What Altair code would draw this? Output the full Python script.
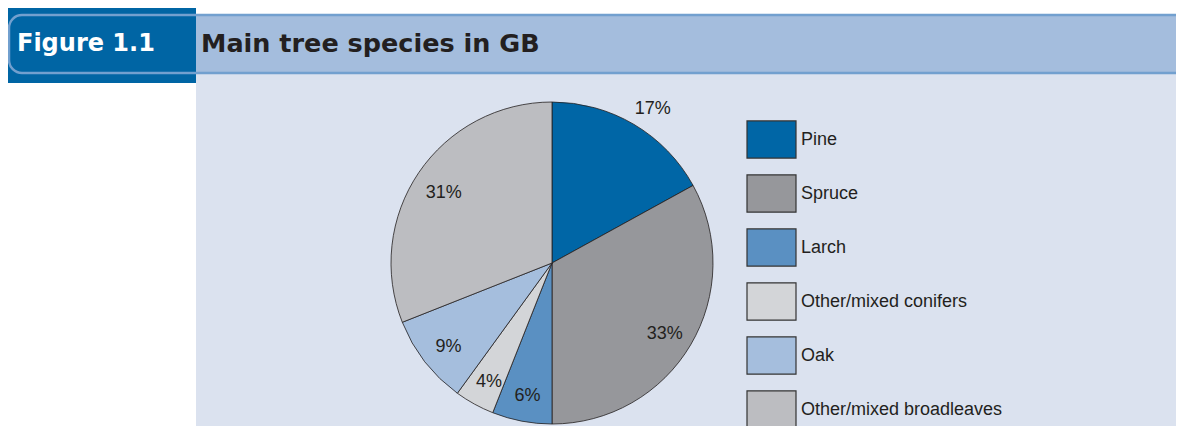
import altair as alt
import pandas as pd

# ---- data ----
species = ["Pine", "Spruce", "Larch", "Other/mixed conifers", "Oak", "Other/mixed broadleaves"]
shares = [17, 33, 6, 4, 9, 31]
share_labels = ["17%", "33%", "6%", "4%", "9%", "31%"]
colors = ["#0066a6", "#96979b", "#5a90c2", "#d3d5d8", "#a5bedd", "#bcbdc1"]

fig_label = "Figure 1.1"
title_text = "Main tree species in GB"

df = pd.DataFrame({
    "species": species,
    "share": shares,
    "label": share_labels,
    "idx": list(range(len(species))),
})
one = pd.DataFrame({"k": [0]})

FONT = "Liberation Sans"
HFONT = "DejaVu Sans"
W, H = 1168, 418
CX, CY, R = 544, 255, 161

# ---- decoration ----
panel = alt.Chart(one).mark_rect(color="#dbe2ef").encode(
    x=alt.value(188), x2=alt.value(W), y=alt.value(66), y2=alt.value(H))
bar = alt.Chart(one).mark_rect(color="#a4bddd").encode(
    x=alt.value(188), x2=alt.value(W), y=alt.value(6), y2=alt.value(66))
darkbox = alt.Chart(one).mark_rect(color="#0065a4").encode(
    x=alt.value(0), x2=alt.value(188), y=alt.value(0), y2=alt.value(75))
outline = alt.Chart(one).mark_rect(
    fillOpacity=0, stroke="#72a0cf", strokeWidth=2.5, cornerRadius=13
).encode(x=alt.value(1), x2=alt.value(W + 40), y=alt.value(7), y2=alt.value(65))

fig_txt = alt.Chart(one).mark_text(
    font=HFONT, fontSize=24, fontWeight="bold", color="white", align="left",
    baseline="middle"
).encode(x=alt.value(9), y=alt.value(36), text=alt.value(fig_label))
title_txt = alt.Chart(one).mark_text(
    font=HFONT, fontSize=25.5, fontWeight="bold", color="#231f20", align="left",
    baseline="middle"
).encode(x=alt.value(193), y=alt.value(36), text=alt.value(title_text))

# ---- pie ----
base = alt.Chart(df).encode(
    theta=alt.Theta("share:Q", stack=True),
    order=alt.Order("idx:Q", sort="ascending"),
)

pie = base.mark_arc(radius=R, stroke="#231f20", strokeWidth=0.8).encode(
    x=alt.value(CX), y=alt.value(CY),
    color=alt.Color(
        "species:N",
        sort=species,
        scale=alt.Scale(domain=species, range=colors),
        legend=alt.Legend(
            title=None,
            orient="none",
            legendX=738,
            legendY=106,
            symbolType="M-1,-0.76H1V0.76H-1Z",
            symbolSize=2401,
            symbolStrokeColor="#333333",
            symbolStrokeWidth=1.2,
            symbolOpacity=1,
            labelFont=FONT,
            labelFontSize=18,
            labelColor="#231f20",
            labelOffset=4,
            labelLimit=0,
            rowPadding=7,
            padding=0,
        ),
    ),
)

label_style = dict(font=FONT, fontSize=18, color="#231f20")
labels_in = base.mark_text(radius=131, dy=4, **label_style).encode(
    x=alt.value(CX), y=alt.value(CY),
    text="label:N",
    opacity=alt.condition("datum.species == 'Pine'", alt.value(0), alt.value(1)),
)
labels_out = base.mark_text(radius=186, dx=6, dy=6, **label_style).encode(
    x=alt.value(CX), y=alt.value(CY),
    text="label:N",
    opacity=alt.condition("datum.species == 'Pine'", alt.value(1), alt.value(0)),
)

chart = alt.layer(panel, bar, darkbox, outline, fig_txt, title_txt, pie, labels_in, labels_out).properties(
    width=W, height=H,
    autosize=alt.AutoSizeParams(type="none"),
    padding=0,
).configure_view(strokeWidth=0)

chart.save("out.html", embed_options={"renderer": "svg", "actions": False})
